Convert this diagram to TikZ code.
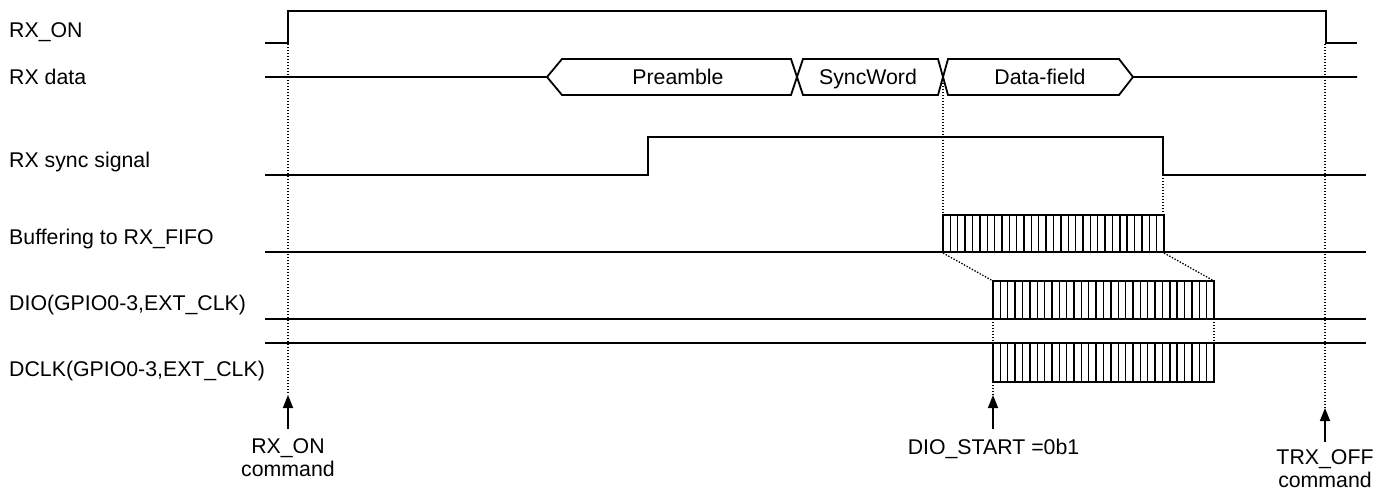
\documentclass[tikz,border=0pt]{standalone}
\usepackage{fontspec}
\setmainfont{Liberation Sans}
\usetikzlibrary{arrows.meta}
\begin{document}
\begin{tikzpicture}[x=1pt,y=-1pt,
  every node/.style={font=\fontsize{21.3}{23}\selectfont, inner sep=0pt},
  sig/.style={line width=1.8pt, line join=miter},
  thin sig/.style={line width=1.5pt},
  dots/.style={line width=1.3pt, dash pattern=on 1.4pt off 1.6pt},
  stripe/.style={line width=1.4pt},
  evarrow/.style={line width=1.7pt, -{Triangle[length=13pt,width=10pt]}},
  lbl/.style={anchor=base west},
  cmd/.style={anchor=north, align=center}]
\useasboundingbox (0,0) rectangle (1384,490);

% ---- labels on the left
\node[lbl] (lrxon)  at (9,37.5)  {RX\_ON};
\node[lbl] (lrxd)   at (9,84.5)  {RX data};
\node[lbl] (lsync)  at (9,167.5) {RX sync signal};
\node[lbl] (lbuf)   at (9,244.5) {Buffering to RX\_FIFO};
\node[lbl] (ldio)   at (9,310.5) {DIO(GPIO0-3,EXT\_CLK)};
\node[lbl] (ldclk)  at (9,376)   {DCLK(GPIO0-3,EXT\_CLK)};

% ---- RX_ON
\draw[sig] (265,43) -- (288,43) -- (288,11) -- (1326,11) -- (1326,43) -- (1357,43);

% ---- RX data
\draw[sig] (265,77) -- (547,77) -- (562,59) -- (791,59) -- (803,95) -- (938,95) -- (948,59) -- (1119,59) -- (1133,77) -- (1357,77);
\draw[sig] (547,77) -- (562,95) -- (791,95) -- (803,59) -- (938,59) -- (948,95) -- (1119,95) -- (1133,77);
\node[anchor=base] (pre)  at (678,84)  {Preamble};
\node[anchor=base] (syn)  at (868,84)  {SyncWord};
\node[anchor=base] (dat)  at (1040,84) {Data-field};

% ---- RX sync signal
\draw[sig] (265,175) -- (648,175) -- (648,137) -- (1163,137) -- (1163,175) -- (1366,175);

% ---- Buffering to RX_FIFO
\draw[sig] (265,252) -- (1366,252);
\draw[sig] (943,252) rectangle (1164,215);
\foreach \k in {1,...,29} {
  \draw[stripe] ({943+\k*221/30},215) -- ({943+\k*221/30},252);
}

% ---- DIO
\draw[thin sig] (265,319) -- (1366,319);
\draw[sig] (993,319) rectangle (1214,281);
\foreach \k in {1,...,29} {
  \draw[stripe] ({993+\k*221/30},281) -- ({993+\k*221/30},319);
}

% ---- DCLK
\draw[sig] (265,343) -- (1366,343);
\draw[sig] (993,343) rectangle (1214,382);
\foreach \k in {1,...,29} {
  \draw[stripe] ({993+\k*221/30},343) -- ({993+\k*221/30},382);
}

% ---- dotted guides
\draw[dots] (943,80) -- (943,215);
\draw[dots] (1163,175) -- (1163,215);
\draw[dots] (943,253) -- (993,281);
\draw[dots] (1164,253) -- (1214,281);
\draw[dots] (993,319) -- (993,343);
\draw[dots] (1214,319) -- (1214,343);

% ---- event arrows
\coordinate (onTail) at (288,429);
\coordinate (onTip)  at (288,395);
\coordinate (onTop)  at (288,44);
\draw[dots] (onTop) -- (onTip);
\draw[evarrow] (onTail) -- (onTip);
\node[cmd] (onLbl) at (288,438) {RX\_ON\\command};

\coordinate (dioTail) at (993,429);
\coordinate (dioTip)  at (993,395);
\coordinate (dioTop)  at (993,382);
\draw[dots] (dioTop) -- (dioTip);
\draw[evarrow] (dioTail) -- (dioTip);
\node[anchor=base] (dioLbl) at (993.5,454) {DIO\_START =0b1};

\coordinate (offTail) at (1325,442);
\coordinate (offTip)  at (1325,408);
\coordinate (offTop)  at (1325,44);
\draw[dots] (offTop) -- (offTip);
\draw[evarrow] (offTail) -- (offTip);
\node[cmd] (offLbl) at (1325,449) {TRX\_OFF\\command};
\end{tikzpicture}
\end{document}
